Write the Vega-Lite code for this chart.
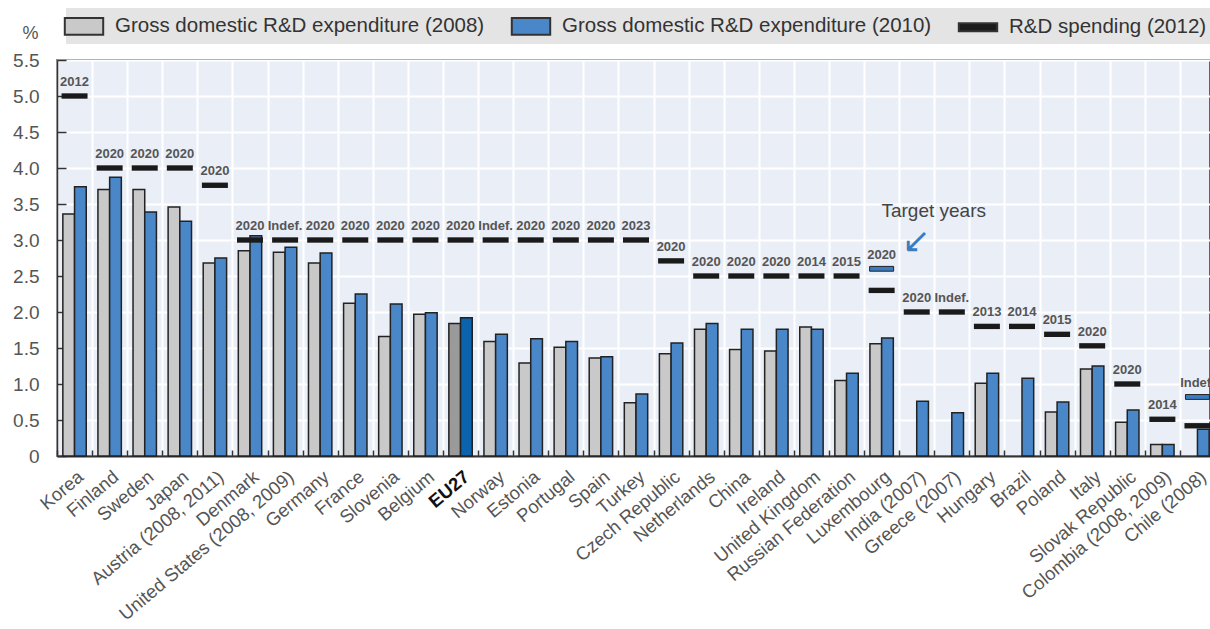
{
  "$schema": "https://vega.github.io/schema/vega-lite/v6.json",
  "autosize": "none",
  "padding": {"left": 57, "top": 60, "right": 0, "bottom": 173},
  "width": 1153,
  "height": 396,
  "datasets": {
    "bars": [
      {"country": "Korea", "series": "Gross domestic R&D expenditure (2008)", "value": 3.36},
      {"country": "Korea", "series": "Gross domestic R&D expenditure (2010)", "value": 3.74},
      {"country": "Finland", "series": "Gross domestic R&D expenditure (2008)", "value": 3.70},
      {"country": "Finland", "series": "Gross domestic R&D expenditure (2010)", "value": 3.87},
      {"country": "Sweden", "series": "Gross domestic R&D expenditure (2008)", "value": 3.70},
      {"country": "Sweden", "series": "Gross domestic R&D expenditure (2010)", "value": 3.39},
      {"country": "Japan", "series": "Gross domestic R&D expenditure (2008)", "value": 3.46},
      {"country": "Japan", "series": "Gross domestic R&D expenditure (2010)", "value": 3.26},
      {"country": "Austria (2008, 2011)", "series": "Gross domestic R&D expenditure (2008)", "value": 2.68},
      {"country": "Austria (2008, 2011)", "series": "Gross domestic R&D expenditure (2010)", "value": 2.75},
      {"country": "Denmark", "series": "Gross domestic R&D expenditure (2008)", "value": 2.85},
      {"country": "Denmark", "series": "Gross domestic R&D expenditure (2010)", "value": 3.06},
      {"country": "United States (2008, 2009)", "series": "Gross domestic R&D expenditure (2008)", "value": 2.83},
      {"country": "United States (2008, 2009)", "series": "Gross domestic R&D expenditure (2010)", "value": 2.90},
      {"country": "Germany", "series": "Gross domestic R&D expenditure (2008)", "value": 2.68},
      {"country": "Germany", "series": "Gross domestic R&D expenditure (2010)", "value": 2.82},
      {"country": "France", "series": "Gross domestic R&D expenditure (2008)", "value": 2.12},
      {"country": "France", "series": "Gross domestic R&D expenditure (2010)", "value": 2.25},
      {"country": "Slovenia", "series": "Gross domestic R&D expenditure (2008)", "value": 1.66},
      {"country": "Slovenia", "series": "Gross domestic R&D expenditure (2010)", "value": 2.11},
      {"country": "Belgium", "series": "Gross domestic R&D expenditure (2008)", "value": 1.97},
      {"country": "Belgium", "series": "Gross domestic R&D expenditure (2010)", "value": 1.99},
      {"country": "EU27", "series": "Gross domestic R&D expenditure (2008)", "value": 1.84},
      {"country": "EU27", "series": "Gross domestic R&D expenditure (2010)", "value": 1.92},
      {"country": "Norway", "series": "Gross domestic R&D expenditure (2008)", "value": 1.59},
      {"country": "Norway", "series": "Gross domestic R&D expenditure (2010)", "value": 1.69},
      {"country": "Estonia", "series": "Gross domestic R&D expenditure (2008)", "value": 1.29},
      {"country": "Estonia", "series": "Gross domestic R&D expenditure (2010)", "value": 1.63},
      {"country": "Portugal", "series": "Gross domestic R&D expenditure (2008)", "value": 1.51},
      {"country": "Portugal", "series": "Gross domestic R&D expenditure (2010)", "value": 1.59},
      {"country": "Spain", "series": "Gross domestic R&D expenditure (2008)", "value": 1.36},
      {"country": "Spain", "series": "Gross domestic R&D expenditure (2010)", "value": 1.38},
      {"country": "Turkey", "series": "Gross domestic R&D expenditure (2008)", "value": 0.74},
      {"country": "Turkey", "series": "Gross domestic R&D expenditure (2010)", "value": 0.86},
      {"country": "Czech Republic", "series": "Gross domestic R&D expenditure (2008)", "value": 1.42},
      {"country": "Czech Republic", "series": "Gross domestic R&D expenditure (2010)", "value": 1.57},
      {"country": "Netherlands", "series": "Gross domestic R&D expenditure (2008)", "value": 1.76},
      {"country": "Netherlands", "series": "Gross domestic R&D expenditure (2010)", "value": 1.84},
      {"country": "China", "series": "Gross domestic R&D expenditure (2008)", "value": 1.48},
      {"country": "China", "series": "Gross domestic R&D expenditure (2010)", "value": 1.76},
      {"country": "Ireland", "series": "Gross domestic R&D expenditure (2008)", "value": 1.46},
      {"country": "Ireland", "series": "Gross domestic R&D expenditure (2010)", "value": 1.76},
      {"country": "United Kingdom", "series": "Gross domestic R&D expenditure (2008)", "value": 1.79},
      {"country": "United Kingdom", "series": "Gross domestic R&D expenditure (2010)", "value": 1.76},
      {"country": "Russian Federation", "series": "Gross domestic R&D expenditure (2008)", "value": 1.05},
      {"country": "Russian Federation", "series": "Gross domestic R&D expenditure (2010)", "value": 1.15},
      {"country": "Luxembourg", "series": "Gross domestic R&D expenditure (2008)", "value": 1.56},
      {"country": "Luxembourg", "series": "Gross domestic R&D expenditure (2010)", "value": 1.64},
      {"country": "India (2007)", "series": "Gross domestic R&D expenditure (2010)", "value": 0.76},
      {"country": "Greece (2007)", "series": "Gross domestic R&D expenditure (2010)", "value": 0.60},
      {"country": "Hungary", "series": "Gross domestic R&D expenditure (2008)", "value": 1.01},
      {"country": "Hungary", "series": "Gross domestic R&D expenditure (2010)", "value": 1.15},
      {"country": "Brazil", "series": "Gross domestic R&D expenditure (2010)", "value": 1.08},
      {"country": "Poland", "series": "Gross domestic R&D expenditure (2008)", "value": 0.61},
      {"country": "Poland", "series": "Gross domestic R&D expenditure (2010)", "value": 0.75},
      {"country": "Italy", "series": "Gross domestic R&D expenditure (2008)", "value": 1.21},
      {"country": "Italy", "series": "Gross domestic R&D expenditure (2010)", "value": 1.25},
      {"country": "Slovak Republic", "series": "Gross domestic R&D expenditure (2008)", "value": 0.47},
      {"country": "Slovak Republic", "series": "Gross domestic R&D expenditure (2010)", "value": 0.64},
      {"country": "Colombia (2008, 2009)", "series": "Gross domestic R&D expenditure (2008)", "value": 0.16},
      {"country": "Colombia (2008, 2009)", "series": "Gross domestic R&D expenditure (2010)", "value": 0.16},
      {"country": "Chile (2008)", "series": "Gross domestic R&D expenditure (2010)", "value": 0.37}
    ],
    "targets": [
      {"country": "Korea", "series": "R&D spending (2012)", "value": 5.0, "label": "2012"},
      {"country": "Finland", "series": "R&D spending (2012)", "value": 4.0, "label": "2020"},
      {"country": "Sweden", "series": "R&D spending (2012)", "value": 4.0, "label": "2020"},
      {"country": "Japan", "series": "R&D spending (2012)", "value": 4.0, "label": "2020"},
      {"country": "Austria (2008, 2011)", "series": "R&D spending (2012)", "value": 3.76, "label": "2020"},
      {"country": "Denmark", "series": "R&D spending (2012)", "value": 3.0, "label": "2020"},
      {"country": "United States (2008, 2009)", "series": "R&D spending (2012)", "value": 3.0, "label": "Indef."},
      {"country": "Germany", "series": "R&D spending (2012)", "value": 3.0, "label": "2020"},
      {"country": "France", "series": "R&D spending (2012)", "value": 3.0, "label": "2020"},
      {"country": "Slovenia", "series": "R&D spending (2012)", "value": 3.0, "label": "2020"},
      {"country": "Belgium", "series": "R&D spending (2012)", "value": 3.0, "label": "2020"},
      {"country": "EU27", "series": "R&D spending (2012)", "value": 3.0, "label": "2020"},
      {"country": "Norway", "series": "R&D spending (2012)", "value": 3.0, "label": "Indef."},
      {"country": "Estonia", "series": "R&D spending (2012)", "value": 3.0, "label": "2020"},
      {"country": "Portugal", "series": "R&D spending (2012)", "value": 3.0, "label": "2020"},
      {"country": "Spain", "series": "R&D spending (2012)", "value": 3.0, "label": "2020"},
      {"country": "Turkey", "series": "R&D spending (2012)", "value": 3.0, "label": "2023"},
      {"country": "Czech Republic", "series": "R&D spending (2012)", "value": 2.71, "label": "2020"},
      {"country": "Netherlands", "series": "R&D spending (2012)", "value": 2.5, "label": "2020"},
      {"country": "China", "series": "R&D spending (2012)", "value": 2.5, "label": "2020"},
      {"country": "Ireland", "series": "R&D spending (2012)", "value": 2.5, "label": "2020"},
      {"country": "United Kingdom", "series": "R&D spending (2012)", "value": 2.5, "label": "2014"},
      {"country": "Russian Federation", "series": "R&D spending (2012)", "value": 2.5, "label": "2015"},
      {"country": "Luxembourg", "series": "R&D spending (2012)", "value": 2.3, "label": ""},
      {"country": "India (2007)", "series": "R&D spending (2012)", "value": 2.0, "label": "2020"},
      {"country": "Greece (2007)", "series": "R&D spending (2012)", "value": 2.0, "label": "Indef."},
      {"country": "Hungary", "series": "R&D spending (2012)", "value": 1.8, "label": "2013"},
      {"country": "Brazil", "series": "R&D spending (2012)", "value": 1.8, "label": "2014"},
      {"country": "Poland", "series": "R&D spending (2012)", "value": 1.69, "label": "2015"},
      {"country": "Italy", "series": "R&D spending (2012)", "value": 1.53, "label": "2020"},
      {"country": "Slovak Republic", "series": "R&D spending (2012)", "value": 1.0, "label": "2020"},
      {"country": "Colombia (2008, 2009)", "series": "R&D spending (2012)", "value": 0.51, "label": "2014"},
      {"country": "Chile (2008)", "series": "R&D spending (2012)", "value": 0.42, "label": ""}
    ],
    "alt": [
      {"country": "Luxembourg", "value": 2.6, "label": "2020"},
      {"country": "Chile (2008)", "value": 0.82, "label": "Indef."}
    ]
  },
  "encoding": {
    "x": {
      "field": "country",
      "type": "nominal",
      "sort": null,
      "scale": {"range": [0, 1158], "paddingInner": 0, "paddingOuter": 0},
      "axis": {
        "title": null,
        "labelAngle": -40,
        "labelFontSize": 18.5,
        "labelLimit": 300,
        "labelColor": {"condition": {"test": "datum.value === 'EU27'", "value": "#111"}, "value": "#555"},
        "labelFontWeight": {"condition": {"test": "datum.value === 'EU27'", "value": "bold"}, "value": "normal"},
        "labelPadding": 17,
        "labelOffset": 0,
        "grid": true,
        "gridColor": "#ffffff",
        "gridWidth": 2,
        "tickBand": "extent",
        "tickSize": -6,
        "tickColor": "#333",
        "tickWidth": 1.5,
        "domainColor": "#333",
        "domainWidth": 2
      }
    },
    "y": {
      "field": "value",
      "type": "quantitative",
      "scale": {"domain": [0, 5.5], "nice": false, "zero": true},
      "axis": {
        "title": "%",
        "titleAngle": 0,
        "titleX": -27,
        "titleY": -27,
        "titleAlign": "center",
        "titleBaseline": "middle",
        "titleFontSize": 18,
        "titleFontWeight": "normal",
        "titleColor": "#555",
        "values": [0, 0.5, 1, 1.5, 2, 2.5, 3, 3.5, 4, 4.5, 5, 5.5],
        "labelExpr": "datum.value === 0 ? '0' : format(datum.value, '.1f')",
        "labelFontSize": 19,
        "labelColor": "#555",
        "labelPadding": 27,
        "grid": true,
        "gridColor": "#ffffff",
        "gridWidth": 2,
        "tickSize": -9,
        "tickColor": "#333",
        "tickWidth": 1.5,
        "domainColor": "#333",
        "domainWidth": 1.5
      }
    }
  },
  "layer": [
    {
      "data": {"name": "bars"},
      "mark": {"type": "bar", "stroke": "#222", "strokeWidth": 1.5},
      "encoding": {
        "xOffset": {
          "field": "series",
          "type": "nominal",
          "scale": {"domain": ["Gross domestic R&D expenditure (2008)", "Gross domestic R&D expenditure (2010)"], "paddingInner": 0, "paddingOuter": 0.5}
        },
        "color": {
          "condition": [
            {"test": "datum.country === 'EU27' && indexof(datum.series, '2008') >= 0", "value": "#9a9a9a"},
            {"test": "datum.country === 'EU27' && indexof(datum.series, '2010') >= 0", "value": "#0b63ad"}
          ],
          "field": "series",
          "type": "nominal",
          "scale": {
            "domain": ["Gross domestic R&D expenditure (2008)", "Gross domestic R&D expenditure (2010)", "R&D spending (2012)"],
            "range": ["#c9c9c9", "#4a87c9", "#1a1a1a"]
          },
          "legend": {
            "encode": {"symbols": {"update": {"stroke": {"value": "#333"}, "strokeWidth": {"value": 2}}}}
          }
        }
      }
    },
    {
      "data": {"name": "targets"},
      "mark": {"type": "point", "filled": true, "opacity": 1, "size": 264},
      "encoding": {
        "color": {
          "field": "series",
          "type": "nominal",
          "scale": {
            "domain": ["Gross domestic R&D expenditure (2008)", "Gross domestic R&D expenditure (2010)", "R&D spending (2012)"],
            "range": ["#c9c9c9", "#4a87c9", "#1a1a1a"]
          },
          "legend": {
            "encode": {"symbols": {"update": {"stroke": {"value": "#333"}, "strokeWidth": {"value": 2}}}}
          }
        },
        "shape": {
          "field": "series",
          "type": "nominal",
          "scale": {
            "domain": ["Gross domestic R&D expenditure (2008)", "Gross domestic R&D expenditure (2010)", "R&D spending (2012)"],
            "range": ["M-1.6,-0.7H1.6V0.7H-1.6Z", "M-1.6,-0.7H1.6V0.7H-1.6Z", "M-1.6,-0.33H1.6V0.33H-1.6Z"]
          },
          "legend": {
            "encode": {"symbols": {"update": {"stroke": {"value": "#333"}, "strokeWidth": {"value": 2}}}}
          }
        }
      }
    },
    {
      "data": {"name": "targets"},
      "mark": {"type": "text", "fontSize": 13, "fontWeight": "bold", "color": "#555", "baseline": "middle", "dy": -14},
      "encoding": {"text": {"field": "label"}}
    },
    {
      "data": {"name": "alt"},
      "mark": {"type": "point", "filled": true, "opacity": 1, "size": 576, "shape": "M-1,-0.2H1V0.2H-1Z", "fill": "#3a7cc2", "stroke": "#222", "strokeWidth": 1}
    },
    {
      "data": {"name": "alt"},
      "mark": {"type": "text", "fontSize": 13, "fontWeight": "bold", "color": "#555", "baseline": "middle", "dy": -14},
      "encoding": {"text": {"field": "label"}}
    },
    {
      "data": {"values": [{"country": "India (2007)", "value": 3.4, "note": "Target years"}]},
      "mark": {"type": "text", "fontSize": 19, "color": "#444", "baseline": "middle", "align": "center", "dx": 17},
      "encoding": {"text": {"field": "note"}}
    },
    {
      "data": {"values": [{"country": "India (2007)", "value": 2.97, "note": "↙"}]},
      "mark": {"type": "text", "fontSize": 34, "color": "#3a7cc2", "baseline": "middle", "align": "center", "dx": -1},
      "encoding": {"text": {"field": "note"}}
    }
  ],
  "config": {
    "font": "Liberation Sans",
    "view": {"fill": "#e9eef7", "stroke": "#333", "strokeWidth": 1.5},
    "legend": {
      "title": null,
      "orient": "none",
      "legendX": 9,
      "legendY": -52,
      "direction": "horizontal",
      "fillColor": "#e4e4e4",
      "padding": 5,
      "columnPadding": 22,
      "labelOffset": 18,
      "labelFontSize": 20.5,
      "labelColor": "#333",
      "labelLimit": 500,
      "symbolSize": 576,
      "symbolOpacity": 1
    }
  }
}
